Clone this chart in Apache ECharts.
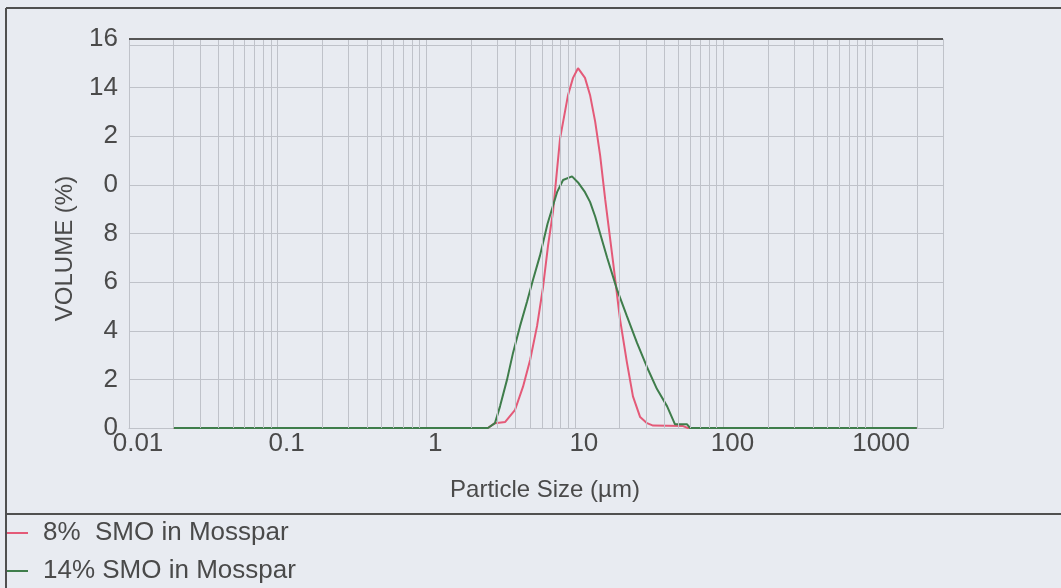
<!DOCTYPE html>
<html>
<head>
<meta charset="utf-8">
<title>Particle Size Distribution</title>
<script src="https://cdn.jsdelivr.net/npm/echarts@6/dist/echarts.min.js"></script>
<style>
  html, body { margin: 0; padding: 0; background: #e8ebf1; }
  #chart { width: 1061px; height: 588px; }
</style>
</head>
<body>
<div id="chart"></div>
<script>
const xTickLabels = ['0.01', '0.1', '1', '10', '100', '1000']
const yTickLabels = ['0', '2', '4', '6', '8', '0', '2', '14', '16']
const seriesNames = ['8%  SMO in Mosspar', '14% SMO in Mosspar']

// particle size (µm) / volume (%)
const size8 = [0.02, 2.6, 2.9, 3.4, 3.96, 4.48, 5.0, 5.57, 6.11, 6.6, 7.13, 7.95, 9.0, 9.72, 10.5, 11.7, 12.65, 13.7, 14.8, 16.0, 18.1, 20.1, 22.4, 24.6, 27.5, 30.6, 33.6, 53.5, 57.6, 2000]
const volume8 = [0, 0, 0.2, 0.25, 0.75, 1.7, 2.8, 4.2, 5.8, 7.5, 8.9, 11.9, 13.7, 14.4, 14.8, 14.4, 13.7, 12.6, 11.2, 9.4, 6.8, 4.5, 2.7, 1.3, 0.45, 0.2, 0.1, 0.08, 0, 0]

const size14 = [0.02, 2.6, 2.9, 3.14, 3.5, 3.84, 4.28, 4.77, 5.23, 5.83, 6.55, 7.59, 8.33, 9.57, 10.5, 11.7, 12.65, 13.7, 16.5, 19.2, 22.4, 26.2, 30.6, 35.7, 41.7, 47.2, 56.9, 59.6, 2000]
const volume14 = [0, 0, 0.2, 0.9, 2.0, 3.1, 4.2, 5.2, 6.1, 7.1, 8.4, 9.7, 10.2, 10.35, 10.1, 9.7, 9.3, 8.7, 7.0, 5.7, 4.6, 3.5, 2.5, 1.6, 0.9, 0.15, 0.15, 0, 0]

const zip = (xs, ys) => xs.map((x, i) => [x, ys[i]])

// minor log gridlines (2..9 in each decade)
const minorGrid = []
for (let d = 0.01; d < 2000; d *= 10) {
  for (let m = 2; m <= 9; m++) {
    const v = +(d * m).toPrecision(3)
    if (v < 3000) minorGrid.push(v)
  }
}

const gridColor = '#bfc2c9'
const textColor = '#4a4a4a'
const fontFamily = '"Liberation Sans", Arial, sans-serif'

const chart = echarts.init(document.getElementById('chart'))

const option = {
  backgroundColor: '#e8ebf1',
  animation: false,
  textStyle: { fontFamily },
  grid: { left: 129, right: 118, top: 39, bottom: 160 },
  legend: {
    data: seriesNames,
    orient: 'vertical',
    left: 7,
    top: 520,
    height: 68,
    padding: 0,
    itemGap: 12,
    itemWidth: 21,
    itemHeight: 2,
    icon: 'rect',
    textStyle: { fontSize: 26, lineHeight: 26, color: textColor, fontFamily, padding: [0, 0, 0, 10] }
  },
  xAxis: {
    type: 'log',
    logBase: 10,
    min: 0.01,
    max: 3000,
    name: 'Particle Size (µm)',
    nameLocation: 'middle',
    nameGap: 50,
    nameTextStyle: { fontSize: 24, color: textColor, fontFamily, padding: [0, 0, 0, 18] },
    axisLine: { show: true, lineStyle: { color: gridColor, width: 1 } },
    axisTick: { show: false },
    axisLabel: {
      fontSize: 26,
      color: textColor,
      margin: 3,
      padding: [0, 0, 0, 18],
      showMaxLabel: false,
      formatter: (v) => {
        const e = Math.log10(v)
        if (Math.abs(e - Math.round(e)) > 1e-6) return ''
        return xTickLabels[Math.round(e) + 2] || ''
      }
    },
    splitLine: { show: true, lineStyle: { color: gridColor, width: 1 } }
  },
  yAxis: {
    type: 'value',
    min: 0,
    max: 16,
    interval: 2,
    name: 'VOLUME (%)',
    nameLocation: 'middle',
    nameGap: 52,
    nameTextStyle: { fontSize: 24, color: textColor, fontFamily, padding: [0, 30, 0, 0] },
    axisLine: { show: true, lineStyle: { color: gridColor, width: 1 } },
    axisTick: { show: false },
    axisLabel: {
      fontSize: 26,
      color: textColor,
      margin: 11,
      formatter: (v) => yTickLabels[Math.round(v / 2)]
    },
    splitLine: { show: true, lineStyle: { color: gridColor, width: 1 } }
  },
  graphic: [
    { type: 'line', shape: { x1: 6, y1: 8, x2: 1061, y2: 8 }, style: { stroke: '#505050', lineWidth: 2 } },
    { type: 'line', shape: { x1: 6, y1: 8, x2: 6, y2: 588 }, style: { stroke: '#505050', lineWidth: 2 } },
    { type: 'line', shape: { x1: 6, y1: 514, x2: 1061, y2: 514 }, style: { stroke: '#505050', lineWidth: 2 } }
  ],
  series: [
    {
      name: 'grid',
      type: 'line',
      data: [],
      z: 1,
      silent: true,
      markLine: {
        silent: true,
        symbol: 'none',
        label: { show: false },
        animation: false,
        data: minorGrid.map(v => ({ xAxis: v, lineStyle: { color: gridColor, width: 1, type: 'solid' } }))
          .concat([
            { xAxis: 3000, lineStyle: { color: gridColor, width: 1, type: 'solid' } },
            { yAxis: 15.75, lineStyle: { color: gridColor, width: 1, type: 'solid' } },
            { yAxis: 16, lineStyle: { color: '#555', width: 2, type: 'solid' } }
          ])
      }
    },
    {
      name: seriesNames[0],
      type: 'line',
      data: zip(size8, volume8),
      symbol: 'none',
      z: 3,
      lineStyle: { color: '#e45a78', width: 2 },
      itemStyle: { color: '#e45a78' }
    },
    {
      name: seriesNames[1],
      type: 'line',
      data: zip(size14, volume14),
      symbol: 'none',
      z: 4,
      lineStyle: { color: '#3f7d4b', width: 2 },
      itemStyle: { color: '#3f7d4b' }
    }
  ]
}

chart.setOption(option)
</script>
</body>
</html>
